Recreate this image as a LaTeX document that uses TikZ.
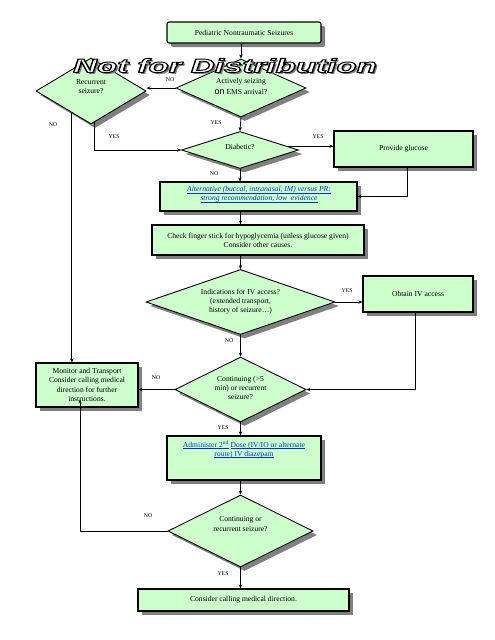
\documentclass[tikz,border=0pt]{standalone}
\usepackage{fontspec}
\setmainfont{Liberation Serif}
\newfontfamily\arialfont{Liberation Sans}
\newfontfamily\wmfont{Liberation Sans}
\usepackage{graphicx}
\usetikzlibrary{shapes.geometric,shadows,arrows.meta,calc}
\definecolor{boxgreen}{HTML}{CCFFCC}
\definecolor{shadowgray}{HTML}{808080}
\definecolor{linkblue}{HTML}{0033CC}
\newsavebox{\myulbox}
\newcommand{\myul}[1]{\leavevmode\sbox{\myulbox}{#1}\rlap{\rule[-1.3pt]{\wd\myulbox}{0.45pt}}\usebox{\myulbox}}
\newcommand{\wmtext}{\scalebox{1.7}[1]{\wmfont\bfseries\itshape\fontsize{19.5}{20}\selectfont Not for Distribution}}
\newcommand{\wmoutline}{\scalebox{1.7}[1]{\wmfont\bfseries\itshape\fontsize{19.5}{20}\selectfont\color{white}\special{pdf:literal direct 2 Tr 0.9 w 0 G}Not for Distribution\special{pdf:literal direct 0 Tr}}}
\tikzset{
 box/.style={draw, line width=1.1pt, fill=boxgreen, inner sep=0pt, align=center,
   drop shadow={shadow xshift=4pt, shadow yshift=-4pt, fill=shadowgray, opacity=1}},
 dia/.style={diamond, draw, line width=0.9pt, fill=boxgreen, inner sep=0pt,
   drop shadow={shadow xshift=4pt, shadow yshift=-4pt, fill=shadowgray, opacity=1}},
 txt/.style={align=center, inner sep=0pt},
 lab/.style={font=\fontsize{5.8}{6}\selectfont, inner sep=0pt},
 arr/.style={line width=0.8pt, -{Stealth[length=4pt,width=3.4pt]}},
 ln/.style={line width=0.8pt}
}
\begin{document}
\begin{tikzpicture}[x=1pt,y=-1pt,font=\fontsize{7.6}{9.2}\selectfont]
\useasboundingbox (0,0) rectangle (495,640);
% nodes
\node[box, rounded corners=2pt, minimum width=154pt, minimum height=21pt] (top) at (244,32.5) {Pediatric Nontraumatic Seizures};
\node[dia, minimum width=130pt, minimum height=58pt] (act) at (241,88) {};
\node[txt] (actt) at (241,86.5) {Actively seizing\\[1pt]{\arialfont\fontsize{9}{9}\selectfont on} EMS arrival?};
\node[dia, minimum width=110pt, minimum height=66pt] (rec) at (91,91) {};
\node[txt] (rect) at (91,86.5) {Recurrent\\seizure?};
\node[dia, minimum width=117pt, minimum height=37pt] (diab) at (240,150) {};
\node[txt] (diabt) at (240,147) {Diabetic?};
\node[box, minimum width=139pt, minimum height=36pt] (glu) at (403.5,149) {Provide glucose};
\node[box, minimum width=197pt, minimum height=29pt] (alt) at (258.5,196.5) {};
\node[txt, text=linkblue, font=\fontsize{7.6}{9}\selectfont\itshape] (altt) at (259,194.5) {\myul{Alternative (buccal, intranasal, IM) versus PR:}\\\myul{strong recommendation, low\ \ evidence}};
\node[box, minimum width=212pt, minimum height=30pt] (chk) at (258,240) {Check finger stick for hypoglycemia (unless glucose given)\\Consider other causes.};
\node[dia, minimum width=189pt, minimum height=65pt] (iv) at (240.5,302) {};
\node[txt] (ivt) at (240.5,301.5) {Indications for IV access?\\(extended transport,\\history of seizure…)};
\node[box, minimum width=110pt, minimum height=36pt] (obt) at (418,294) {Obtain IV access};
\node[dia, minimum width=131pt, minimum height=65pt] (cont) at (240.5,389.5) {};
\node[txt] (contt) at (240.5,388) {Continuing (>5\\min) or recurrent\\seizure?};
\node[box, minimum width=102pt, minimum height=44pt] (mon) at (87,385) {Monitor and Transport\\Consider calling medical\\direction for further\\instructions.};
\node[box, minimum width=154pt, minimum height=44pt] (adm) at (244,458) {};
\node[txt, text=linkblue] (admt) at (244,449.5) {\myul{Administer 2\textsuperscript{nd}} \myul{Dose (IV/IO or alternate}\\\myul{route) IV diazepam}};
\node[dia, minimum width=145pt, minimum height=72pt] (last) at (240.5,531) {};
\node[txt] (lastt) at (240.5,524) {Continuing or\\recurrent seizure?};
\node[box, minimum width=211pt, minimum height=22pt] (fin) at (243.5,600) {Consider calling medical direction.};
% connectors
\draw[arr] (act.north |- top.south) -- (act.north);
\draw[arr] (act.west) -- (act.west -| rec.east);
\draw[arr] (act.south) -- (diab.north);
\coordinate (recno) at ($(rec.west)!0.655!(rec.south)$);
\draw[arr] (recno) -- (recno |- mon.north);
\coordinate (recyes) at ($(rec.south)!0.07!(rec.east)$);
\draw[arr] (recyes) |- (diab.west);
\coordinate (diabyes) at ($(diab.north east)!0.6!(diab.east)$);
\draw[arr] (diabyes) -- (diabyes -| glu.west);
\draw[arr] ($(glu.south)+(3.5,0)$) |- (alt.east);
\draw[arr] (diab.south) -- (diab.south |- alt.north);
\draw[arr] (iv.north |- alt.south) -- (iv.north |- chk.north);
\draw[arr] (iv.north |- chk.south) -- (iv.north);
\draw[arr] (iv.east) -- (iv.east -| obt.west);
\draw[arr] ($(obt.south)+(-3,0)$) |- (cont.east);
\draw[arr] (iv.south) -- (cont.north);
\draw[arr] (cont.west) -- (cont.west -| mon.east);
\draw[arr] (cont.south) -- (cont.south |- adm.north);
\draw[arr] (last.north |- adm.south) -- (last.north);
\draw[arr, shorten >=-8pt] (last.west) -| ($(mon.south)+(-7,0)$);
\draw[arr] (last.south) -- (last.south |- fin.north);
% labels
\node[lab] (l1) at (170,80) {NO};
\node[lab] (l2) at (216,123) {YES};
\node[lab] (l3) at (53,125) {NO};
\node[lab] (l4) at (114,137) {YES};
\node[lab] (l5) at (318,137) {YES};
\node[lab] (l6) at (214,174) {NO};
\node[lab] (l7) at (347,291) {YES};
\node[lab] (l8) at (229,341) {NO};
\node[lab] (l9) at (156,378) {NO};
\node[lab] (l10) at (223,428) {YES};
\node[lab] (l11) at (148,516) {NO};
\node[lab] (l12) at (223,574) {YES};
% watermark (shadow and outlined letters in one node)
\node[inner sep=0pt, anchor=base] (wm) at (225,72.5) {\rlap{\hspace{2pt}\raisebox{-2pt}{\color{shadowgray}\wmtext}}\wmoutline};
\end{tikzpicture}
\end{document}
